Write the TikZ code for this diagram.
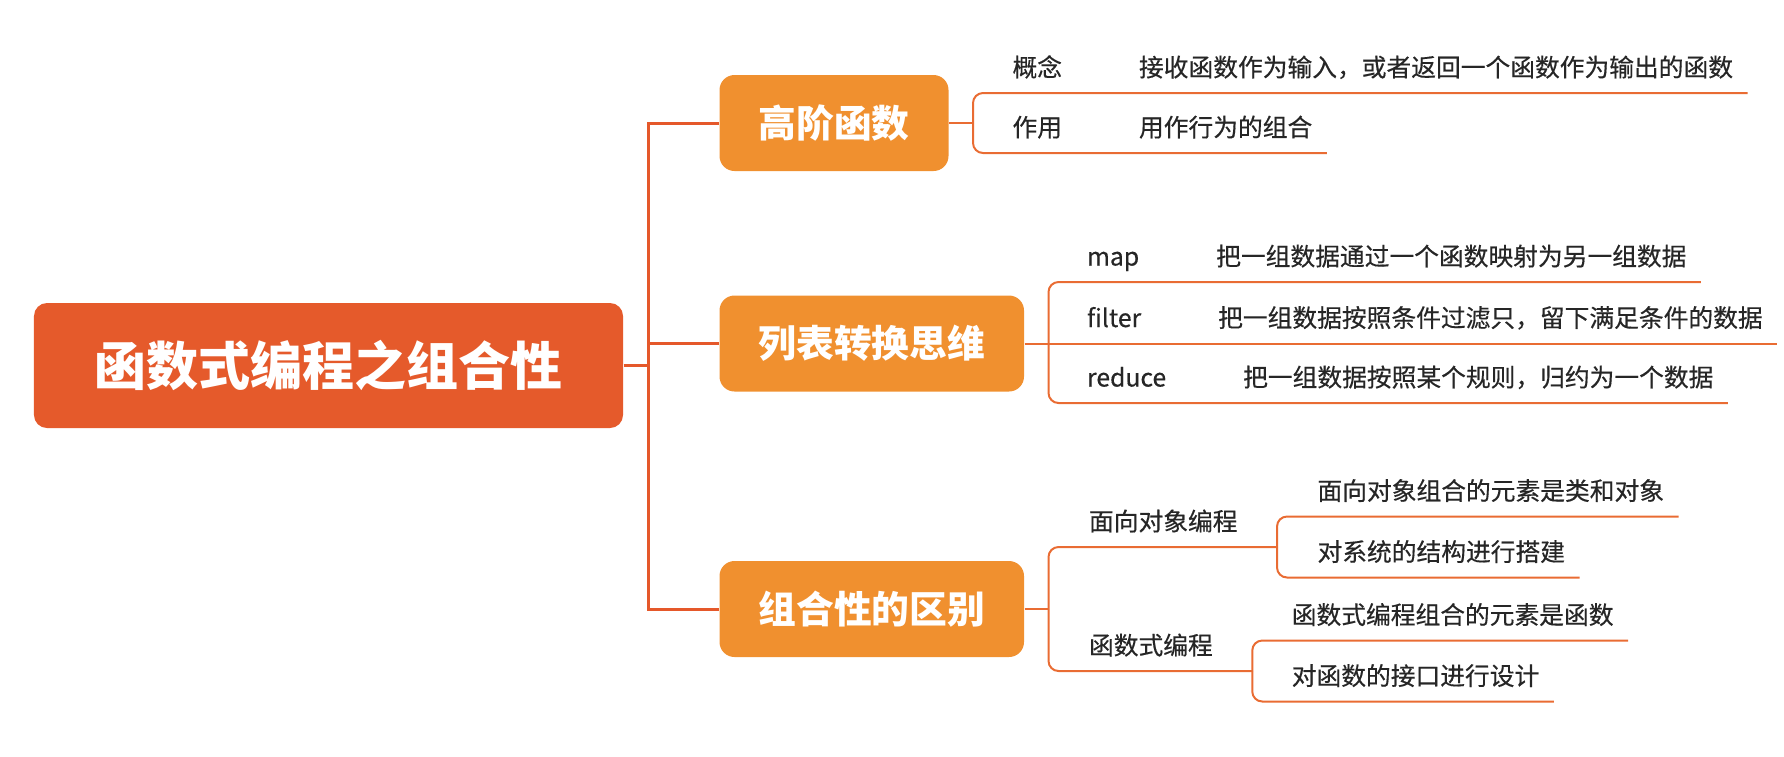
\documentclass[tikz,border=0pt]{standalone}
\usepackage{fontspec}
\setmainfont{Noto Sans CJK SC}
\newfontfamily\leaffont{Noto Sans CJK SC}[FakeBold=0.4]
\usepackage{tikz}
\usetikzlibrary{positioning}
\definecolor{rootc}{HTML}{E55A2B}
\definecolor{topicc}{HTML}{F0902F}
\definecolor{trunkc}{HTML}{E5582A}
\definecolor{linec}{HTML}{E96C33}
\definecolor{ink}{HTML}{262626}
\begin{document}
\begin{tikzpicture}[x=0.4pt,y=-0.4pt,
  root/.style={fill=rootc,rounded corners=5.2pt,text=white,inner sep=0pt,
    font=\bfseries\fontsize{20.8}{24}\selectfont,
    minimum width=235.6pt,minimum height=50pt},
  topic/.style={fill=topicc,rounded corners=6pt,text=white,anchor=west,
    font=\bfseries\fontsize{15.1}{18}\selectfont,
    inner xsep=15.6pt,inner ysep=0pt,minimum height=38.4pt},
  leaf/.style={text=ink,font=\leaffont\fontsize{9.9}{12}\selectfont,
    inner xsep=0pt,inner ysep=6.4pt,text depth=0pt,anchor=south west},
  desc/.style={text=ink,font=\leaffont\fontsize{9.9}{12}\selectfont,
    inner xsep=0pt,inner ysep=6.4pt,text depth=0pt},
  trunk/.style={draw=trunkc,line width=1.2pt},
  branch/.style={draw=linec,line width=0.8pt,rounded corners=4pt}]
  \useasboundingbox (0,0) rectangle (1784,756);

  % root and main topics
  \node[root] (root) at (328.5,365.5) {函数式编程之组合性};
  \node[topic] (hof) at (719,123) {高阶函数};
  \node[topic] (list) at (719,343.5) {列表转换思维};
  \node[topic] (diff) at (719,609) {组合性的区别};
  \coordinate[right=10pt of root] (tr);
  \draw[trunk] (root) -- (tr);
  \draw[trunk] (hof.west) -| (tr) |- (diff.west);
  \draw[trunk] (list.west) -- (tr |- list.west);

  % higher order functions
  \coordinate[right=9.6pt of hof] (jh);
  \node[leaf] (concept) at ([shift={(39,-30)}]jh) {概念};
  \node[desc,base right=30.4pt of concept] (conceptd) {接收函数作为输入，或者返回一个函数作为输出的函数};
  \node[leaf] (usage) at ([shift={(39,30)}]jh) {作用};
  \node[desc,base right=30.4pt of usage] (usaged) {用作行为的组合};
  \draw[branch] (hof) -- (jh);
  \draw[branch] (jh) |- ([xshift=5.6pt]conceptd.south east);
  \draw[branch] (jh) |- ([xshift=5.6pt]usaged.south east);

  % list transformation
  \coordinate[right=9.6pt of list] (jl);
  \node[leaf] (map) at ([shift={(38,-61.5)}]jl) {map};
  \node[desc,base right=30.4pt of map] (mapd) {把一组数据通过一个函数映射为另一组数据};
  \node[leaf] (filter) at ([shift={(38,0)}]jl) {filter};
  \node[desc,base right=30.4pt of filter] (filterd) {把一组数据按照条件过滤只，留下满足条件的数据};
  \node[leaf] (reduce) at ([shift={(38,59.5)}]jl) {reduce};
  \node[desc,base right=30.4pt of reduce] (reduced) {把一组数据按照某个规则，归约为一个数据};
  \draw[branch] (list) -- (jl);
  \draw[branch] (jl) |- ([xshift=5.6pt]mapd.south east);
  \draw[branch] (jl) -- ([xshift=5.6pt]filterd.south east);
  \draw[branch] (jl) |- ([xshift=5.6pt]reduced.south east);

  % composition compared
  \coordinate[right=9.6pt of diff] (jd);
  \node[leaf] (oop) at ([shift={(40,-62)}]jd) {面向对象编程};
  \node[leaf] (fp) at ([shift={(40,62)}]jd) {函数式编程};
  \coordinate[right=15.6pt of oop.south east] (jo);
  \coordinate[right=15.6pt of fp.south east] (jf);
  \draw[branch] (diff) -- (jd);
  \draw[branch] (jd) |- (jo);
  \draw[branch] (jd) |- (jf);
  \node[leaf] (oopa) at ([shift={(40,-30.5)}]jo) {面向对象组合的元素是类和对象};
  \node[leaf] (oopb) at ([shift={(40,30.5)}]jo) {对系统的结构进行搭建};
  \node[leaf] (fpa) at ([shift={(39,-30.5)}]jf) {函数式编程组合的元素是函数};
  \node[leaf] (fpb) at ([shift={(39,30.5)}]jf) {对函数的接口进行设计};
  \draw[branch] (jo) |- ([xshift=5.6pt]oopa.south east);
  \draw[branch] (jo) |- ([xshift=5.6pt]oopb.south east);
  \draw[branch] (jf) |- ([xshift=5.6pt]fpa.south east);
  \draw[branch] (jf) |- ([xshift=5.6pt]fpb.south east);
\end{tikzpicture}
\end{document}
